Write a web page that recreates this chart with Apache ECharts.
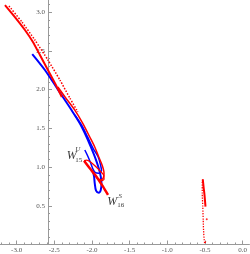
<!DOCTYPE html>
<html>
<head>
<meta charset="utf-8">
<script src="https://cdn.jsdelivr.net/npm/echarts@6/dist/echarts.min.js"></script>
<style>html,body{margin:0;padding:0;background:#fff}#c{width:250px;height:254px}</style>
</head>
<body>
<div id="c"></div>
<script>
// ---- data (x, y) ----
var blueMain = [[-2.793,2.458],[-2.625,2.252],[-2.449,1.994],[-2.272,1.735],[-2.162,1.564],[-2.073,1.391],[-2.007,1.241],[-1.954,1.112],[-1.910,0.983],[-1.883,0.875],[-1.874,0.790],[-1.883,0.703],[-1.910,0.668],[-1.946,0.694],[-1.963,0.790],[-1.972,0.875],[-1.985,0.939]];
var blueSecond = [[-2.228,1.671],[-2.139,1.542],[-2.060,1.391],[-1.985,1.241],[-1.919,1.133],[-1.883,1.013],[-1.874,0.952],[-1.910,0.919],[-1.954,0.926],[-1.985,0.970],[-2.016,1.048],[-2.052,1.133],[-2.095,1.219]];
var redTop = [[-3.155,3.090],[-3.023,2.935],[-2.890,2.768],[-2.784,2.613],[-2.691,2.445],[-2.585,2.252],[-2.479,2.058],[-2.400,1.903]];
var redDotted = [[-3.102,3.077],[-2.930,2.871],[-2.758,2.639],[-2.585,2.381],[-2.426,2.123],[-2.294,1.890],[-2.188,1.710]];
var redRight = [[-2.453,2.032],[-2.360,1.907],[-2.228,1.735],[-2.122,1.564],[-2.029,1.387],[-1.963,1.258],[-1.910,1.129],[-1.866,1.026],[-1.840,0.919],[-1.853,0.854],[-1.897,0.832],[-1.950,0.884]];
var redStrand = [[-2.105,1.081],[-2.029,0.983],[-1.940,0.875],[-1.853,0.746],[-1.787,0.639]];
var redLoop = [[-2.105,1.081],[-2.073,1.090],[-2.007,1.055],[-1.940,0.996],[-1.883,0.939],[-1.844,0.897],[-1.840,0.841],[-1.874,0.823],[-1.919,0.854]];
var redSpike = [[-0.529,0.841],[-0.519,0.746],[-0.506,0.639],[-0.493,0.488]];
var redSpikeDots = [[-0.529,0.841],[-0.536,0.810],[-0.536,0.661],[-0.529,0.488],[-0.523,0.316],[-0.519,0.187],[-0.510,0.058],[-0.502,0.015],[-0.484,0.058]];
var redIsolated = [[-0.476,0.325]];
var xMajorTicks = [-3.0,-2.5,-2.0,-1.5,-1.0,-0.5,0.0];
var yMajorTicks = [0.5,1.0,1.5,2.0,2.5,3.0];
var annotations = [
  {x:-2.268, y:1.148, text:'W', style:'w'},
  {x:-2.188, y:1.226, text:'U', style:'sup'},
  {x:-2.175, y:1.094, text:'15', style:'sub'},
  {x:-1.731, y:0.548, text:'W', style:'w'},
  {x:-1.623, y:0.628, text:'S', style:'sup'},
  {x:-1.619, y:0.510, text:'16', style:'sub'}
];

var X_MIN = -3.221, X_MAX = 0.090, Y_MIN = 0, Y_MAX = 3.155;
var RED = '#ff0000', BLUE = '#0000ff', AXIS = '#999';

function minorList(from, to){ var out=[]; for (var i=Math.round(from*10); i<=Math.round(to*10); i++){ if (i%5!==0) out.push(i/10); } return out; }
var xMinorTicks = minorList(-3.2, 0.0);
var yMinorTicks = minorList(0.1, 3.1);

var chart = echarts.init(document.getElementById('c'), null, {renderer:'canvas'});

function line(data, color, width, type, smooth){
  return {type:'line', data:data, symbol:'none', smooth: smooth===undefined?0.3:smooth,
          lineStyle:{color:color, width:width, type:type||'solid'}, silent:true, animation:false};
}
var textStyles = {
  w:{fontFamily:'Liberation Serif', fontStyle:'italic', fontSize:12},
  sup:{fontFamily:'Liberation Serif', fontStyle:'italic', fontSize:7},
  sub:{fontFamily:'Liberation Serif', fontStyle:'normal', fontSize:7}
};
var labelStyle = {fontSize:7, fontFamily:'Liberation Serif', color:'#555'};

var option = {
  backgroundColor:'#fff',
  animation:false,
  grid:{left:0, right:0, top:0, bottom:9.5, containLabel:false},
  xAxis:[
    {type:'value', position:'bottom', min:X_MIN, max:X_MAX,
      axisLine:{onZero:false, lineStyle:{color:AXIS, width:1}},
      axisTick:{show:true, inside:true, length:4, customValues:xMajorTicks, lineStyle:{color:AXIS}},
      splitLine:{show:false},
      axisLabel:Object.assign({margin:2, customValues:xMajorTicks, formatter:function(v){return v.toFixed(1);}}, labelStyle)
    },
    {type:'value', position:'bottom', min:X_MIN, max:X_MAX,
      axisLine:{show:false, onZero:false}, splitLine:{show:false}, axisLabel:{show:false},
      axisTick:{show:true, inside:true, length:2, customValues:xMinorTicks, lineStyle:{color:AXIS}}
    }
  ],
  yAxis:[
    {type:'value', position:'left', min:Y_MIN, max:Y_MAX, offset:-48,
      axisLine:{onZero:false, lineStyle:{color:AXIS, width:1}},
      axisTick:{show:true, inside:true, length:4, customValues:yMajorTicks, lineStyle:{color:AXIS}},
      splitLine:{show:false},
      axisLabel:Object.assign({margin:3, customValues:yMajorTicks, formatter:function(v){return v.toFixed(1);}}, labelStyle)
    },
    {type:'value', position:'left', min:Y_MIN, max:Y_MAX, offset:-48,
      axisLine:{show:false, onZero:false}, splitLine:{show:false}, axisLabel:{show:false},
      axisTick:{show:true, inside:true, length:2, customValues:yMinorTicks, lineStyle:{color:AXIS}}
    }
  ],
  series:[
    line(blueMain, BLUE, 2),
    line(blueSecond, BLUE, 1.5),
    line(redTop, RED, 2, 'solid', 0.2),
    line(redDotted, RED, 1.5, 'dotted', 0.2),
    line(redRight, RED, 1.5),
    line(redLoop, RED, 1.3),
    line(redStrand, RED, 2.5, 'solid', 0.2),
    line(redSpike, RED, 2, 'solid', 0.2),
    line(redSpikeDots, RED, 1.3, 'dotted', 0.2),
    {type:'scatter', data:redIsolated, symbolSize:2, itemStyle:{color:RED}, silent:true},
    {type:'scatter', symbolSize:0, silent:true, z:10,
      data: annotations.map(function(a){ var s=textStyles[a.style]; return {value:[a.x,a.y], label:{show:true, position:'inside', formatter:a.text, fontFamily:s.fontFamily, fontStyle:s.fontStyle, fontSize:s.fontSize, color:'#000'}}; })
    }
  ]
};
chart.setOption(option);
</script>
</body>
</html>
